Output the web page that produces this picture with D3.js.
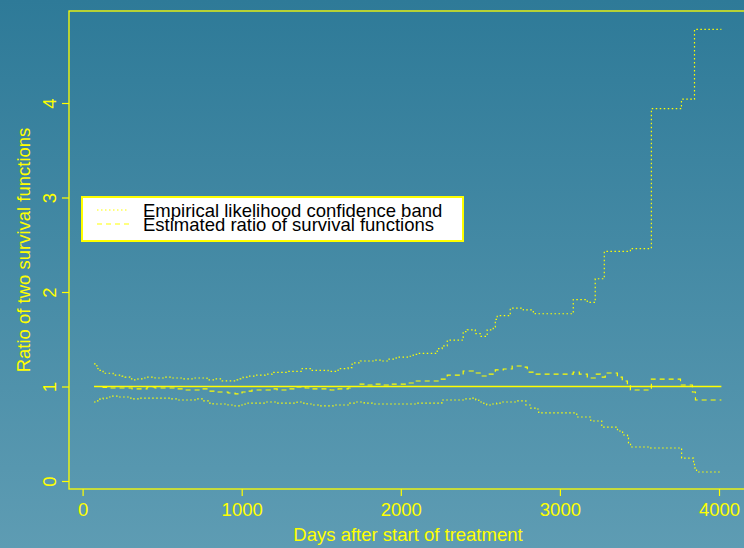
<!DOCTYPE html>
<html>
<head>
<meta charset="utf-8">
<script src="https://cdn.jsdelivr.net/npm/d3@7"></script>
<style>
  html, body { margin: 0; padding: 0; overflow: hidden; }
  text { font-family: "Liberation Sans", Arial, Helvetica, sans-serif; }
</style>
</head>
<body>
<div id="chart"></div>
<script>
// step functions: day where each step starts, value from there on
const upperDays = [72, 90, 97, 122, 129, 192, 248, 267, 298, 317, 348, 380, 405, 455, 518, 550, 625, 688, 782, 833, 877, 940, 971, 990, 1009, 1034,
  1084, 1147, 1191, 1292, 1380, 1443, 1543, 1606, 1669, 1694, 1745, 1839, 1883, 1921, 1971, 2047, 2078, 2109, 2229, 2260, 2292, 2386, 2392, 2418,
  2468, 2499, 2543, 2581, 2594, 2606, 2688, 2770, 2833, 2845, 3084, 3172, 3222, 3279, 3443, 3575, 3764, 3846];
const upperVals = [1.24, 1.19, 1.17, 1.16, 1.14, 1.12, 1.11, 1.10, 1.08, 1.07, 1.08, 1.09, 1.10, 1.09, 1.10, 1.09, 1.08, 1.09, 1.07, 1.08, 1.06, 1.06, 1.07, 1.08, 1.10, 1.11,
  1.12, 1.13, 1.15, 1.16, 1.19, 1.17, 1.16, 1.19, 1.20, 1.25, 1.27, 1.28, 1.27, 1.29, 1.31, 1.32, 1.34, 1.35, 1.40, 1.43, 1.49, 1.52, 1.58, 1.60,
  1.56, 1.53, 1.60, 1.63, 1.71, 1.75, 1.83, 1.81, 1.78, 1.77, 1.92, 1.89, 2.14, 2.43, 2.46, 3.94, 4.04, 4.78];

const lowerDays = [72, 90, 109, 129, 153, 185, 216, 286, 317, 361, 468, 550, 600, 707, 757, 789, 820, 914, 958, 990, 1021,
  1040, 1147, 1223, 1348, 1380, 1411, 1449, 1481, 1575, 1669, 1713, 1770, 1820, 2051, 2095, 2258, 2409, 2440, 2471, 2490, 2522, 2540,
  2572, 2603, 2635, 2723, 2786, 2817, 2855, 2867, 3106, 3194, 3263, 3362, 3394, 3425, 3431, 3444, 3570, 3765, 3840, 3846, 3859];
const lowerVals = [0.836, 0.847, 0.868, 0.878, 0.889, 0.899, 0.889, 0.878, 0.868, 0.878, 0.878, 0.868, 0.857, 0.868, 0.847, 0.825, 0.815, 0.804, 0.794, 0.804, 0.815,
  0.825, 0.836, 0.825, 0.836, 0.825, 0.815, 0.804, 0.794, 0.804, 0.825, 0.836, 0.825, 0.815, 0.815, 0.825, 0.857, 0.868, 0.878, 0.857, 0.836, 0.815, 0.804,
  0.815, 0.825, 0.836, 0.847, 0.804, 0.772, 0.762, 0.72, 0.677, 0.635, 0.571, 0.529, 0.487, 0.455, 0.402, 0.36, 0.349, 0.243, 0.19, 0.138, 0.095];

const estDays = [72, 129, 173, 311, 405, 455, 581, 644, 739, 789, 845, 914, 958, 1002, 1021, 1065, 1179, 1223, 1286, 1348, 1399, 1430,
  1556, 1606, 1669, 1682, 1732, 1776, 1839, 1883, 1921, 2028, 2078, 2248, 2292, 2392, 2455, 2499, 2543, 2594, 2644, 2700, 2763, 2795,
  2845, 3084, 3122, 3172, 3222, 3254, 3285, 3361, 3392, 3424, 3443, 3575, 3758, 3833, 3852];
const estVals = [1.0, 0.99, 0.984, 0.974, 0.995, 0.984, 0.974, 0.963, 0.974, 0.952, 0.942, 0.931, 0.921, 0.942, 0.952, 0.963, 0.974, 0.963, 0.974, 0.995, 0.984, 0.974,
  0.963, 0.974, 0.984, 1.0, 1.026, 1.016, 1.026, 1.016, 1.026, 1.037, 1.058, 1.079, 1.12, 1.164, 1.143, 1.111, 1.132, 1.175, 1.185, 1.217, 1.206, 1.153,
  1.132, 1.153, 1.132, 1.09, 1.132, 1.10, 1.143, 1.10, 1.058, 1.016, 0.963, 1.079, 1.016, 0.942, 0.857];

const lastDay = 4015;
const refValue = 1;
const xTicks = [0, 1000, 2000, 3000, 4000];
const yTicks = [0, 1, 2, 3, 4];
const legendLabels = ["Empirical likelihood confidence band", "Estimated ratio of survival functions"];

const W = 744, H = 548;
const yellow = "#ffff00";
const fontSize = "18.5px";

const svg = d3.select("#chart").append("svg")
  .attr("width", W)
  .attr("height", H);

const grad = svg.append("defs").append("linearGradient")
  .attr("id", "bg")
  .attr("x1", 0).attr("y1", 0).attr("x2", 0).attr("y2", 1);
grad.append("stop").attr("offset", "0%").attr("stop-color", "#2e7a98");
grad.append("stop").attr("offset", "100%").attr("stop-color", "#5e9cb3");

svg.append("rect")
  .attr("width", W).attr("height", H)
  .attr("fill", "url(#bg)");

const x = d3.scaleLinear().domain([0, 4000]).range([82.6, 719]);
const y = d3.scaleLinear().domain([0, 4]).range([481, 103]);

// plot frame (extends past right edge like the original)
const frame = { left: 69, top: 11, right: 747, bottom: 489 };
svg.append("rect")
  .attr("x", frame.left).attr("y", frame.top)
  .attr("width", frame.right - frame.left)
  .attr("height", frame.bottom - frame.top)
  .attr("fill", "none")
  .attr("stroke", yellow)
  .attr("stroke-width", 1.3);

const toPoints = (days, vals) => {
  const pts = days.map((d, i) => [d, vals[i]]);
  pts.push([lastDay, vals[vals.length - 1]]);
  return pts;
};

const stepLine = d3.line()
  .x(d => x(d[0]))
  .y(d => y(d[1]))
  .curve(d3.curveStepAfter);

// reference line at 1
svg.append("path")
  .attr("d", stepLine([[72, refValue], [lastDay, refValue]]))
  .attr("fill", "none")
  .attr("stroke", yellow)
  .attr("stroke-width", 1.5);

svg.append("path")
  .attr("d", stepLine(toPoints(estDays, estVals)))
  .attr("fill", "none")
  .attr("stroke", yellow)
  .attr("stroke-width", 1.2)
  .attr("stroke-dasharray", "5,4");

[[upperDays, upperVals], [lowerDays, lowerVals]].forEach(([d, v]) => {
  svg.append("path")
    .attr("d", stepLine(toPoints(d, v)))
    .attr("fill", "none")
    .attr("stroke", yellow)
    .attr("stroke-width", 1.2)
    .attr("stroke-dasharray", "1.5,2.5");
});

// axes
const xAxis = svg.append("g")
  .attr("transform", `translate(0,${frame.bottom})`)
  .call(d3.axisBottom(x).tickValues(xTicks).tickSize(7).tickFormat(d3.format("d")));
xAxis.select(".domain").remove();
xAxis.selectAll("line").attr("stroke", yellow).attr("stroke-width", 1.2);
xAxis.selectAll("text")
  .attr("y", 27).attr("dy", 0)
  .attr("fill", yellow)
  .style("font-size", fontSize)
  .style("font-family", "Liberation Sans, Arial, sans-serif");

const yAxis = svg.append("g")
  .attr("transform", `translate(${frame.left},0)`)
  .call(d3.axisLeft(y).tickValues(yTicks).tickSize(7).tickFormat(d3.format("d")));
yAxis.select(".domain").remove();
yAxis.selectAll("line").attr("stroke", yellow).attr("stroke-width", 1.2);
yAxis.selectAll("text")
  .attr("transform", "rotate(-90)")
  .attr("x", 0).attr("y", -13).attr("dy", 0)
  .attr("text-anchor", "middle")
  .attr("fill", yellow)
  .style("font-size", fontSize)
  .style("font-family", "Liberation Sans, Arial, sans-serif");

svg.append("text")
  .attr("x", (frame.left + frame.right) / 2)
  .attr("y", 541)
  .attr("text-anchor", "middle")
  .attr("fill", yellow)
  .style("font-size", fontSize)
  .text("Days after start of treatment");

svg.append("text")
  .attr("transform", `translate(30,${(frame.top + frame.bottom) / 2}) rotate(-90)`)
  .attr("text-anchor", "middle")
  .attr("fill", yellow)
  .style("font-size", fontSize)
  .text("Ratio of two survival functions");

// legend
const legend = svg.append("g").attr("transform", "translate(82,197)");
legend.append("rect")
  .attr("width", 381).attr("height", 44)
  .attr("fill", "#ffffff")
  .attr("stroke", yellow)
  .attr("stroke-width", 2);

const legendDash = ["1.5,2.5", "5,4"];
legendLabels.forEach((label, i) => {
  const ly = 13 + i * 14;
  legend.append("line")
    .attr("x1", 15).attr("x2", 47)
    .attr("y1", ly).attr("y2", ly)
    .attr("stroke", yellow)
    .attr("stroke-width", 1.2)
    .attr("stroke-dasharray", legendDash[i]);
  legend.append("text")
    .attr("x", 61)
    .attr("y", 20 + i * 14)
    .attr("fill", "#000")
    .style("font-size", fontSize)
    .text(label);
});
</script>
</body>
</html>
